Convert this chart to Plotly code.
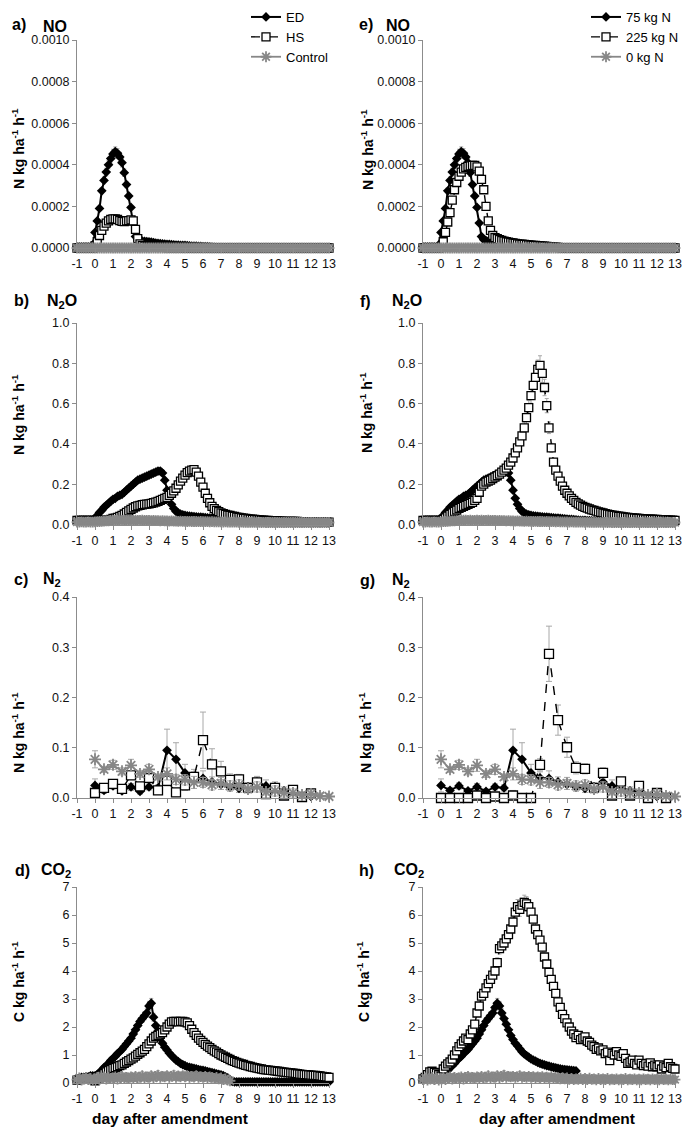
import plotly.graph_objects as go

# ---------------- data ----------------
# dense time grid: every 3 h from day -1 to day 13
DAYS = [round(-1 + i * 0.125, 3) for i in range(113)]
N2_DAYS = [0, 0.5, 1, 1.5, 2, 2.5, 3, 3.5, 4, 4.5, 5, 5.5, 6, 6.5, 7, 7.5, 8, 8.5, 9, 9.5,
           10, 10.5, 11, 11.5, 12, 12.5, 13]
X_TICKS = [-1, 0, 1, 2, 3, 4, 5, 6, 7, 8, 9, 10, 11, 12, 13]

# NO flux, values in units of 1e-4 N kg ha-1 h-1
NO_ED = [0.05, 0.05, 0.05, 0.05, 0.05, 0.05, 0.05, 0.15,
         0.75, 1.3, 1.9, 2.75, 3.25, 3.65, 4.0, 4.3,
         4.52, 4.63, 4.55, 4.38, 4.1, 3.62, 3.05, 2.5,
         1.95, 1.2, 0.55, 0.4, 0.35, 0.33, 0.32, 0.31,
         0.3, 0.28, 0.26, 0.24, 0.22, 0.21, 0.2, 0.19,
         0.18, 0.17, 0.16, 0.15, 0.14, 0.135, 0.13, 0.125,
         0.12, 0.11, 0.1, 0.095, 0.09, 0.085, 0.08, 0.075,
         0.07, 0.065, 0.06, 0.05, 0.04, 0.03, 0.02, 0.01,
         0.01, 0.01, 0.01, 0.01, 0.01, 0.01, 0.01, 0.01,
         0.005, 0.005, 0.005, 0.005, 0.005, 0.005, 0.005, 0.005,
         0.005, 0.005, 0.005, 0.005, 0.005, 0.005, 0.005, 0.005,
         0.0, 0.0, 0.0, 0.0, 0.0, 0.0, 0.0, 0.0,
         0.0, 0.0, 0.0, 0.0, 0.0, 0.0, 0.0, 0.0,
         0.0, 0.0, 0.0, 0.0, 0.0, 0.0, 0.0, 0.0,
         0.0]
NO_HS = [0.0, 0.0, 0.0, 0.0, 0.0, 0.0, 0.0, 0.0,
         0.1, 0.3, 0.6, 0.85, 1.05, 1.2, 1.3, 1.37,
         1.4, 1.4, 1.38, 1.32, 1.28, 1.27, 1.3, 1.32,
         1.35, 1.3, 0.9, 0.45, 0.2, 0.12, 0.08, 0.06,
         0.05, 0.05, 0.04, 0.04, 0.04, 0.03, 0.03, 0.03,
         0.02, 0.02, 0.02, 0.02, 0.02, 0.02, 0.02, 0.02,
         0.01, 0.01, 0.01, 0.01, 0.01, 0.01, 0.01, 0.01,
         0.01, 0.01, 0.01, 0.01, 0.01, 0.01, 0.01, 0.01,
         0.0, 0.0, 0.0, 0.0, 0.0, 0.0, 0.0, 0.0,
         0.0, 0.0, 0.0, 0.0, 0.0, 0.0, 0.0, 0.0,
         0.0, 0.0, 0.0, 0.0, 0.0, 0.0, 0.0, 0.0,
         0.0, 0.0, 0.0, 0.0, 0.0, 0.0, 0.0, 0.0,
         0.0, 0.0, 0.0, 0.0, 0.0, 0.0, 0.0, 0.0,
         0.0, 0.0, 0.0, 0.0, 0.0, 0.0, 0.0, 0.0,
         0.0]
NO_225 = [0.0, 0.0, 0.0, 0.0, 0.0, 0.0, 0.0, 0.0,
          0.05, 0.3, 0.75, 1.25, 1.7, 2.3, 2.8, 3.15,
          3.45, 3.65, 3.8, 3.88, 3.92, 3.95, 3.97, 3.97,
          3.9, 3.7, 3.3, 2.8, 2.0, 1.3, 0.85, 0.6,
          0.5, 0.45, 0.4, 0.36, 0.33, 0.3, 0.28, 0.26,
          0.24, 0.22, 0.2, 0.19, 0.18, 0.17, 0.16, 0.15,
          0.14, 0.13, 0.12, 0.11, 0.1, 0.09, 0.085, 0.08,
          0.07, 0.06, 0.05, 0.04, 0.03, 0.02, 0.01, 0.01,
          0.0, 0.0, 0.0, 0.0, 0.0, 0.0, 0.0, 0.0,
          0.0, 0.0, 0.0, 0.0, 0.0, 0.0, 0.0, 0.0,
          0.0, 0.0, 0.0, 0.0, 0.0, 0.0, 0.0, 0.0,
          0.0, 0.0, 0.0, 0.0, 0.0, 0.0, 0.0, 0.0,
          0.0, 0.0, 0.0, 0.0, 0.0, 0.0, 0.0, 0.0,
          0.0, 0.0, 0.0, 0.0, 0.0, 0.0, 0.0, 0.0,
          0.0]
NO_CTRL = [0.0, 0.0, 0.0, 0.0, 0.0, 0.0, 0.0, 0.0,
           0.0, 0.0, 0.0, 0.0, 0.0, 0.0, 0.0, 0.0,
           0.0, 0.0, 0.0, 0.0, 0.0, 0.0, 0.0, 0.0,
           0.0, 0.0, 0.0, 0.0, 0.0, 0.0, 0.0, 0.0,
           0.0, 0.0, 0.0, 0.0, 0.0, 0.0, 0.0, 0.0,
           0.0, 0.0, 0.0, 0.0, 0.0, 0.0, 0.0, 0.0,
           0.0, 0.0, 0.0, 0.0, 0.0, 0.0, 0.0, 0.0,
           0.0, 0.0, 0.0, 0.0, 0.0, 0.0, 0.0, 0.0,
           0.0, 0.0, 0.0, 0.0, 0.0, 0.0, 0.0, 0.0,
           0.0, 0.0, 0.0, 0.0, 0.0, 0.0, 0.0, 0.0,
           0.0, 0.0, 0.0, 0.0, 0.0, 0.0, 0.0, 0.0,
           0.0, 0.0, 0.0, 0.0, 0.0, 0.0, 0.0, 0.0,
           0.0, 0.0, 0.0, 0.0, 0.0, 0.0, 0.0, 0.0,
           0.0, 0.0, 0.0, 0.0, 0.0, 0.0, 0.0, 0.0,
           0.0]

# N2O flux, N kg ha-1 h-1
N2O_ED = [0.02, 0.02, 0.02, 0.02, 0.02, 0.02, 0.02, 0.022,
          0.025, 0.045, 0.06, 0.07, 0.085, 0.095, 0.105, 0.115,
          0.125, 0.13, 0.14, 0.145, 0.15, 0.16, 0.17, 0.18,
          0.19, 0.2, 0.21, 0.22, 0.225, 0.23, 0.235, 0.24,
          0.245, 0.25, 0.255, 0.26, 0.265, 0.265, 0.255, 0.22,
          0.17, 0.13, 0.1, 0.08, 0.065, 0.058, 0.052, 0.048,
          0.045, 0.043, 0.041, 0.04, 0.039, 0.038, 0.037, 0.036,
          0.035, 0.034, 0.033, 0.032, 0.031, 0.03, 0.029, 0.028,
          0.027, 0.026, 0.025, 0.024, 0.023, 0.022, 0.021, 0.02,
          0.02, 0.019, 0.019, 0.018, 0.018, 0.017, 0.017, 0.016,
          0.016, 0.016, 0.016, 0.015, 0.015, 0.015, 0.015, 0.015,
          0.015, 0.015, 0.014, 0.014, 0.014, 0.014, 0.014, 0.014,
          0.014, 0.014, 0.013, 0.013, 0.013, 0.013, 0.013, 0.013,
          0.013, 0.013, 0.012, 0.012, 0.012, 0.012, 0.012, 0.012,
          0.012]
N2O_HS = [0.02, 0.02, 0.02, 0.02, 0.02, 0.02, 0.02, 0.02,
          0.02, 0.02, 0.02, 0.02, 0.02, 0.02, 0.022, 0.025,
          0.03, 0.032, 0.035, 0.04, 0.045, 0.052, 0.06, 0.068,
          0.075, 0.082, 0.088, 0.092, 0.095, 0.098, 0.1, 0.101,
          0.102, 0.105, 0.108, 0.111, 0.115, 0.12, 0.125, 0.13,
          0.135, 0.145, 0.155, 0.167, 0.18, 0.197, 0.215, 0.23,
          0.245, 0.257, 0.265, 0.27, 0.272, 0.26, 0.24, 0.21,
          0.185, 0.155, 0.13, 0.108, 0.09, 0.079, 0.07, 0.064,
          0.058, 0.054, 0.05, 0.047, 0.045, 0.042, 0.04, 0.037,
          0.035, 0.033, 0.031, 0.03, 0.028, 0.027, 0.026, 0.025,
          0.024, 0.023, 0.022, 0.021, 0.02, 0.02, 0.019, 0.019,
          0.018, 0.018, 0.017, 0.017, 0.016, 0.016, 0.016, 0.015,
          0.015, 0.015, 0.015, 0.014, 0.014, 0.014, 0.014, 0.014,
          0.013, 0.013, 0.013, 0.013, 0.012, 0.012, 0.012, 0.012,
          0.012]
N2O_225 = [0.02, 0.02, 0.02, 0.02, 0.02, 0.02, 0.02, 0.02,
           0.02, 0.025, 0.033, 0.042, 0.05, 0.058, 0.065, 0.072,
           0.08, 0.085, 0.09, 0.095, 0.1, 0.105, 0.11, 0.12,
           0.13, 0.16, 0.19, 0.2, 0.21, 0.215, 0.22, 0.228,
           0.235, 0.242, 0.25, 0.26, 0.27, 0.28, 0.295, 0.31,
           0.33, 0.355, 0.38, 0.41, 0.44, 0.48, 0.53, 0.58,
           0.64, 0.69, 0.73, 0.77, 0.79, 0.75, 0.68, 0.59,
           0.48, 0.38, 0.31, 0.27, 0.24, 0.215, 0.19, 0.17,
           0.155, 0.142, 0.13, 0.12, 0.11, 0.102, 0.096, 0.09,
           0.085, 0.081, 0.077, 0.073, 0.07, 0.066, 0.063, 0.06,
           0.057, 0.054, 0.051, 0.049, 0.047, 0.045, 0.043, 0.041,
           0.04, 0.038, 0.037, 0.035, 0.034, 0.033, 0.032, 0.031,
           0.03, 0.029, 0.028, 0.027, 0.027, 0.026, 0.026, 0.025,
           0.025, 0.024, 0.024, 0.023, 0.023, 0.022, 0.022, 0.021,
           0.02]
N2O_CTRL = [0.012, 0.012, 0.013, 0.012, 0.012, 0.013, 0.012, 0.012,
            0.013, 0.014, 0.015, 0.016, 0.017, 0.018, 0.018, 0.019,
            0.02, 0.02, 0.021, 0.021, 0.02, 0.021, 0.02, 0.02,
            0.021, 0.02, 0.021, 0.02, 0.02, 0.021, 0.02, 0.02,
            0.02, 0.019, 0.02, 0.019, 0.019, 0.018, 0.019, 0.018,
            0.018, 0.017, 0.018, 0.017, 0.017, 0.016, 0.017, 0.016,
            0.016, 0.015, 0.016, 0.015, 0.015, 0.015, 0.014, 0.015,
            0.014, 0.014, 0.014, 0.013, 0.014, 0.013, 0.013, 0.013,
            0.013, 0.012, 0.013, 0.012, 0.012, 0.012, 0.012, 0.012,
            0.011, 0.012, 0.011, 0.011, 0.011, 0.011, 0.011, 0.011,
            0.011, 0.011, 0.01, 0.011, 0.01, 0.01, 0.01, 0.01,
            0.01, 0.01, 0.01, 0.01, 0.01, 0.01, 0.01, 0.01,
            0.01, 0.01, 0.01, 0.01, 0.01, 0.01, 0.01, 0.01,
            0.01, 0.01, 0.01, 0.01, 0.01, 0.01, 0.01, 0.01,
            0.01]

# N2 flux (every 12 h), N kg ha-1 h-1, with standard errors
N2_ED = [0.025, 0.015, 0.024, 0.014, 0.022, 0.013, 0.022, 0.02, 0.095, 0.077,
         0.05, 0.04, 0.039, 0.032, 0.027, 0.022, 0.019, 0.022, 0.032, 0.024,
         0.022, 0.014, 0.012, 0.003, 0.003, None, None]
N2_ED_ERR = [0.013, 0.006, 0.006, 0.005, 0.007, 0.005, 0.006, 0.006, 0.042, 0.033,
             0.017, 0.012, 0.015, 0.01, 0.01, 0.008, 0.008, 0.008, 0.01, 0.012,
             0.01, 0.008, 0.006, 0.004, 0.004, 0, 0]
N2_HS = [0.01, 0.02, 0.028, 0.018, 0.045, 0.023, 0.04, 0.015, 0.034, 0.011,
         0.025, 0.042, 0.115, 0.067, 0.053, 0.036, 0.037, 0.02, 0.031, 0.008,
         0.02, 0.005, 0.016, 0.002, 0.009, None, None]
N2_HS_ERR = [0.005, 0.005, 0.005, 0.005, 0.008, 0.005, 0.005, 0.005, 0.01, 0.005,
             0.01, 0.015, 0.056, 0.031, 0.02, 0.012, 0.01, 0.008, 0.012, 0.006,
             0.008, 0.005, 0.005, 0.004, 0.004, 0, 0]
N2_225 = [0.0, 0.0, 0.0, 0.0, 0.005, 0.0, 0.003, 0.0, 0.005, 0.0,
          0.0, 0.066, 0.287, 0.155, 0.101, 0.06, 0.058, 0.02, 0.05, 0.005,
          0.033, 0.005, 0.024, 0.0, 0.01, 0.0, None]
N2_225_ERR = [0.002, 0.002, 0.002, 0.002, 0.006, 0.002, 0.004, 0.002, 0.01, 0.002,
              0.002, 0.012, 0.055, 0.03, 0.02, 0.012, 0.01, 0.008, 0.01, 0.004,
              0.008, 0.004, 0.005, 0.002, 0.004, 0.002, 0]
N2_CTRL = [0.077, 0.057, 0.066, 0.053, 0.065, 0.048, 0.057, 0.042, 0.048, 0.037,
           0.036, 0.031, 0.031, 0.026, 0.029, 0.024, 0.026, 0.018, 0.022, 0.012,
           0.014, 0.01, 0.01, 0.006, 0.008, 0.004, 0.003]
N2_CTRL_ERR = [0.017, 0.006, 0.009, 0.007, 0.012, 0.007, 0.01, 0.006, 0.012, 0.01,
               0.01, 0.012, 0.01, 0.01, 0.012, 0.01, 0.01, 0.008, 0.01, 0.006,
               0.01, 0.008, 0.008, 0.006, 0.008, 0.006, 0.006]

# CO2 flux, C kg ha-1 h-1
CO2_ED = [0.1, 0.15, 0.2, 0.2, 0.22, 0.22, 0.25, 0.25,
          0.25, 0.3, 0.38, 0.45, 0.55, 0.62, 0.7, 0.8,
          0.88, 0.95, 1.05, 1.12, 1.2, 1.3, 1.4, 1.5,
          1.6, 1.75, 1.9, 2.05, 2.2, 2.3, 2.4, 2.5,
          2.75, 2.85, 2.35, 2.05, 1.85, 1.6, 1.42, 1.28,
          1.18, 1.07, 0.98, 0.9, 0.82, 0.76, 0.7, 0.66,
          0.62, 0.58, 0.56, 0.54, 0.52, 0.5, 0.48, 0.46,
          0.45, 0.43, 0.41, 0.39, 0.37, 0.35, 0.33, 0.31,
          0.29, 0.26, 0.22, 0.18, 0.12, 0.06, 0.04, 0.04,
          0.04, 0.04, 0.04, 0.04, 0.04, 0.04, 0.04, 0.04,
          0.04, 0.04, 0.04, 0.04, 0.04, 0.04, 0.04, 0.04,
          0.04, 0.04, 0.04, 0.04, 0.04, 0.04, 0.04, 0.04,
          0.04, 0.04, 0.04, 0.04, 0.04, 0.04, 0.04, 0.04,
          0.04, 0.04, 0.04, 0.04, 0.04, 0.04, 0.04, 0.04,
          0.04]
CO2_HS = [0.1, 0.12, 0.15, 0.15, 0.18, 0.15, 0.18, 0.15,
          0.08, 0.15, 0.22, 0.28, 0.34, 0.4, 0.44, 0.48,
          0.52, 0.55, 0.58, 0.62, 0.65, 0.7, 0.75, 0.8,
          0.85, 0.9, 0.96, 1.02, 1.08, 1.14, 1.2, 1.3,
          1.4, 1.5, 1.6, 1.66, 1.7, 1.75, 1.8, 1.9,
          2.0, 2.1, 2.18, 2.2, 2.2, 2.18, 2.2, 2.2,
          2.18, 2.15, 2.05, 1.92, 1.8, 1.7, 1.6, 1.52,
          1.45, 1.38, 1.32, 1.26, 1.2, 1.15, 1.1, 1.05,
          1.0, 0.96, 0.92, 0.88, 0.84, 0.8, 0.77, 0.74,
          0.71, 0.68, 0.66, 0.63, 0.61, 0.59, 0.57, 0.55,
          0.53, 0.51, 0.5, 0.48, 0.47, 0.46, 0.45, 0.44,
          0.43, 0.42, 0.41, 0.4, 0.39, 0.38, 0.37, 0.36,
          0.35, 0.34, 0.33, 0.32, 0.31, 0.3, 0.3, 0.29,
          0.28, 0.27, 0.27, 0.26, 0.25, 0.24, 0.23, 0.22,
          0.2]
CO2_CTRL_D = [0.12, 0.18, 0.1, 0.15, 0.2, 0.12, 0.16, 0.1,
              0.15, 0.2, 0.12, 0.18, 0.22, 0.14, 0.2, 0.16,
              0.18, 0.22, 0.14, 0.2, 0.24, 0.16, 0.2, 0.18,
              0.22, 0.16, 0.24, 0.18, 0.2, 0.26, 0.17, 0.22,
              0.2, 0.26, 0.18, 0.24, 0.28, 0.2, 0.24, 0.22,
              0.26, 0.2, 0.24, 0.28, 0.2, 0.25, 0.22, 0.26,
              0.22, 0.26, 0.2, 0.24, 0.21, 0.26, 0.2, 0.23,
              0.2, 0.24, 0.18, 0.22, 0.2, 0.16, 0.2, 0.15,
              0.18, 0.12, 0.15, 0.1, 0.08, None, None, None,
              None, None, None, None, None, None, None, None,
              None, None, None, None, None, None, None, None,
              None, None, None, None, None, None, None, None,
              None, None, None, None, None, None, None, None,
              None, None, None, None, None, None, None, None,
              None]
CO2_75 = [0.1, 0.15, 0.2, 0.2, 0.22, 0.22, 0.25, 0.25,
          0.25, 0.3, 0.38, 0.45, 0.55, 0.62, 0.7, 0.8,
          0.88, 0.95, 1.05, 1.12, 1.2, 1.3, 1.4, 1.5,
          1.6, 1.75, 1.9, 2.05, 2.2, 2.3, 2.4, 2.5,
          2.7, 2.85, 2.75, 2.5, 2.3, 2.1, 1.9, 1.7,
          1.55, 1.42, 1.33, 1.22, 1.12, 1.04, 0.98, 0.92,
          0.86, 0.82, 0.78, 0.74, 0.7, 0.67, 0.65, 0.62,
          0.6, 0.58, 0.56, 0.54, 0.52, 0.5, 0.49, 0.48,
          0.47, 0.46, 0.45, 0.44, 0.43, None, None, None,
          None, None, None, None, None, None, None, None,
          None, None, None, None, None, None, None, None,
          None, None, None, None, None, None, None, None,
          None, None, None, None, None, None, None, None,
          None, None, None, None, None, None, None, None,
          None]
CO2_225 = [0.15, 0.2, 0.3, 0.4, 0.42, 0.38, 0.35, 0.3,
           0.25, 0.5, 0.6, 0.68, 0.75, 0.85, 1.0, 1.15,
           1.3, 1.4, 1.5, 1.6, 1.55, 1.75, 1.9, 2.1,
           2.5, 2.75, 3.1, 3.2, 3.4, 3.55, 3.7, 3.85,
           4.0, 4.3, 4.8, 4.9, 5.0, 5.15, 5.3, 5.5,
           5.75, 6.1, 6.3, 6.2, 6.35, 6.45, 6.4, 6.3,
           6.1, 5.85, 5.5, 5.3, 5.1, 4.85, 4.5, 4.25,
           3.95, 3.7, 3.45, 3.2, 2.9, 2.7, 2.45, 2.3,
           2.15, 2.0, 1.85, 1.75, 1.62, 1.7, 1.55, 1.6,
           1.65, 1.5, 1.45, 1.35, 1.3, 1.2, 1.25, 1.15,
           1.18, 1.05, 1.1, 0.8, 1.06, 1.0, 1.12, 1.0,
           0.95, 1.05, 0.88, 0.7, 0.75, 0.82, 0.7, 0.65,
           0.82, 0.7, 0.62, 0.68, 0.6, 0.72, 0.58, 0.64,
           0.58, 0.65, 0.5, 0.6, 0.55, 0.7, 0.58, 0.52,
           0.5]
CO2_CTRL_H = [0.12, 0.18, 0.1, 0.15, 0.2, 0.12, 0.16, 0.1,
              0.15, 0.2, 0.12, 0.18, 0.22, 0.14, 0.2, 0.16,
              0.18, 0.22, 0.14, 0.2, 0.24, 0.16, 0.2, 0.18,
              0.22, 0.16, 0.24, 0.18, 0.2, 0.26, 0.17, 0.22,
              0.2, 0.26, 0.18, 0.24, 0.28, 0.2, 0.24, 0.22,
              0.24, 0.2, 0.22, 0.26, 0.2, 0.23, 0.2, 0.24,
              0.2, 0.23, 0.18, 0.22, 0.19, 0.23, 0.18, 0.21,
              0.18, 0.22, 0.17, 0.2, 0.18, 0.15, 0.19, 0.15,
              0.18, 0.13, 0.16, 0.12, 0.15, 0.13, 0.17, 0.12,
              0.16, 0.12, 0.17, 0.13, 0.15, 0.11, 0.16, 0.12,
              0.15, 0.12, 0.16, 0.11, 0.14, 0.12, 0.15, 0.11,
              0.14, 0.12, 0.16, 0.11, 0.14, 0.12, 0.15, 0.11,
              0.14, 0.11, 0.15, 0.12, 0.14, 0.11, 0.15, 0.12,
              0.14, 0.11, 0.15, 0.12, 0.14, 0.11, 0.14, 0.12,
              0.12]

# ---------------- styling ----------------
FONT = "Liberation Sans, Arial, sans-serif"
BLACK = "#000000"
GRAY = "#878787"
ERR = "#a8a8a8"
AXIS = "#8c8c8c"

XL = [77 / 686, 329 / 686]
XR = [423 / 686, 675 / 686]
ROWS = [(40, 248), (323, 524.5), (597, 798), (887, 1083)]


def ydom(r):
    top, bot = ROWS[r]
    return [1 - bot / 1132, 1 - top / 1132]


fig = go.Figure()

STYLE = {
    "ed": dict(line=dict(color=BLACK, width=2),
               marker=dict(symbol="diamond", size=7.5, color=BLACK,
                           line=dict(color=BLACK, width=0))),
    "hs": dict(line=dict(color=BLACK, width=1.4, dash="dash"),
               marker=dict(symbol="square", size=8, color="white",
                           line=dict(color=BLACK, width=1.3))),
    "ctrl": dict(line=dict(color=GRAY, width=1.8),
                 marker=dict(symbol="asterisk-open", size=9, color=GRAY,
                             line=dict(color=GRAY, width=1.8))),
}


def add(ax, x, y, kind, name, err=None, pct=None, legend=None, size=None):
    st = STYLE[kind]
    mk = dict(st["marker"])
    if size is not None:
        mk = dict(mk, size=size)
    kw = {}
    if err is not None:
        kw["error_y"] = dict(type="data", array=err, visible=True, color=ERR,
                             thickness=1, width=3)
    elif pct is not None:
        kw["error_y"] = dict(type="percent", value=pct, visible=True, color=ERR,
                             thickness=1, width=2)
    fig.add_trace(go.Scatter(
        x=x, y=y, mode="lines+markers", name=name,
        line=st["line"], marker=mk, cliponaxis=False,
        xaxis="x" + ("" if ax == 1 else str(ax)),
        yaxis="y" + ("" if ax == 1 else str(ax)),
        showlegend=legend is not None,
        legend=legend if legend is not None else "legend",
        connectgaps=False, hoverinfo="skip", **kw))


no_ed = [v * 1e-4 for v in NO_ED]
no_hs = [v * 1e-4 for v in NO_HS]
no_225 = [v * 1e-4 for v in NO_225]
no_ctrl = [v * 1e-4 for v in NO_CTRL]

# panel a (axis 1) and e (axis 2): NO
add(1, DAYS, no_ed, "ed", "ED", pct=5, legend="legend")
add(1, DAYS, no_hs, "hs", "HS", pct=5, legend="legend")
add(1, DAYS, no_ctrl, "ctrl", "Control", legend="legend")
add(2, DAYS, no_ed, "ed", "75 kg N", pct=5, legend="legend2")
add(2, DAYS, no_225, "hs", "225 kg N", pct=5, legend="legend2")
add(2, DAYS, no_ctrl, "ctrl", "0 kg N", legend="legend2")

# panel b (3) and f (4): N2O
add(3, DAYS, N2O_ED, "ed", "ED", pct=6)
add(3, DAYS, N2O_HS, "hs", "HS", pct=6)
add(3, DAYS, N2O_CTRL, "ctrl", "Control", pct=20)
add(4, DAYS, N2O_ED, "ed", "75 kg N", pct=6)
add(4, DAYS, N2O_225, "hs", "225 kg N", pct=6)
add(4, DAYS, N2O_CTRL, "ctrl", "0 kg N", pct=20)

# panel c (5) and g (6): N2
add(5, N2_DAYS, N2_ED, "ed", "ED", err=N2_ED_ERR, size=7.5)
add(5, N2_DAYS, N2_HS, "hs", "HS", err=N2_HS_ERR, size=9)
add(5, N2_DAYS, N2_CTRL, "ctrl", "Control", err=N2_CTRL_ERR, size=10)
add(6, N2_DAYS, N2_ED, "ed", "75 kg N", err=N2_ED_ERR, size=7.5)
add(6, N2_DAYS, N2_225, "hs", "225 kg N", err=N2_225_ERR, size=9)
add(6, N2_DAYS, N2_CTRL, "ctrl", "0 kg N", err=N2_CTRL_ERR, size=10)

# panel d (7) and h (8): CO2
add(7, DAYS, CO2_ED, "ed", "ED", pct=6)
add(7, DAYS, CO2_HS, "hs", "HS", pct=6)
add(7, DAYS, CO2_CTRL_D, "ctrl", "Control", pct=55)
add(8, DAYS, CO2_75, "ed", "75 kg N", pct=6)
add(8, DAYS, CO2_225, "hs", "225 kg N", pct=4)
add(8, DAYS, CO2_CTRL_H, "ctrl", "0 kg N", pct=55)

# ---------------- axes ----------------
Y_SPECS = [
    dict(range=[0, 0.001], dtick=0.0002, tickformat=".4f"),
    dict(range=[0, 1.0], dtick=0.2, tickformat=".1f"),
    dict(range=[0, 0.4], dtick=0.1, tickformat=".1f"),
    dict(range=[0, 7], dtick=1, tickformat="d"),
]

layout = {}
for ax in range(1, 9):
    r = (ax - 1) // 2
    left = (ax % 2 == 1)
    sx = "" if ax == 1 else str(ax)
    layout["xaxis" + sx] = dict(
        domain=XL if left else XR, anchor="y" + sx,
        range=[-1, 13], tickmode="array", tickvals=X_TICKS,
        ticktext=[str(t) for t in X_TICKS],
        showline=True, linecolor=AXIS, linewidth=1,
        ticks="outside", ticklen=4, tickcolor=AXIS, tickwidth=1,
        showgrid=False, zeroline=False, automargin=False,
        tickfont=dict(family=FONT, size=12.5, color="#111111"),
    )
    ys = Y_SPECS[r]
    layout["yaxis" + sx] = dict(
        domain=ydom(r), anchor="x" + sx,
        range=ys["range"], dtick=ys["dtick"], tick0=0, tickformat=ys["tickformat"],
        showline=True, linecolor=AXIS, linewidth=1,
        ticks="outside", ticklen=4, tickcolor=AXIS, tickwidth=1,
        showgrid=False, zeroline=False, automargin=False,
        tickfont=dict(family=FONT, size=12.5, color="#111111"),
    )

# ---------------- text ----------------
ann = []


def txt(x, y, s, size, angle=0):
    ann.append(dict(x=x / 686, y=1 - y / 1132, xref="paper", yref="paper",
                    text=s, showarrow=False, textangle=angle,
                    xanchor="center", yanchor="middle",
                    font=dict(family=FONT, size=size, color=BLACK)))


# panel letters
for lab, x, y in [("a)", 19, 24), ("e)", 366, 24), ("b)", 21, 300), ("f)", 365, 301),
                  ("c)", 21, 579), ("g)", 367, 580), ("d)", 22, 870), ("h)", 366, 870)]:
    txt(x, y, "<b>%s</b>" % lab, 16)
# gas names
for lab, x, y in [("NO", 55, 26), ("NO", 398, 25),
                  ("N<sub>2</sub>O", 62, 301), ("N<sub>2</sub>O", 407, 301),
                  ("N<sub>2</sub>", 52, 579), ("N<sub>2</sub>", 401, 580),
                  ("CO<sub>2</sub>", 56, 870), ("CO<sub>2</sub>", 409, 870)]:
    txt(x, y, "<b>%s</b>" % lab, 16)
# y titles
YT_N = "<b>N kg ha<sup>-1</sup> h<sup>-1</sup></b>"
YT_C = "<b>C kg ha<sup>-1</sup> h<sup>-1</sup></b>"
for s, x, y in [(YT_N, 18, 149), (YT_N, 367, 150), (YT_N, 18, 415), (YT_N, 366, 413),
                (YT_N, 18, 733), (YT_N, 365, 733), (YT_C, 18, 982), (YT_C, 363, 982)]:
    txt(x, y, s, 14, angle=-90)
# x titles
txt(170, 1118, "<b>day after amendment</b>", 15.5)
txt(557, 1118, "<b>day after amendment</b>", 15.5)

fig.update_layout(
    width=686, height=1132,
    margin=dict(l=0, r=0, t=0, b=0, autoexpand=False),
    paper_bgcolor="white", plot_bgcolor="white",
    font=dict(family=FONT, size=13, color=BLACK),
    annotations=ann,
    legend=dict(x=246 / 686, y=1 - 2 / 1132, xanchor="left", yanchor="top",
                bgcolor="rgba(0,0,0,0)", font=dict(family=FONT, size=13, color=BLACK),
                itemwidth=30, tracegroupgap=0),
    legend2=dict(x=586 / 686, y=1 - 2 / 1132, xanchor="left", yanchor="top",
                 bgcolor="rgba(0,0,0,0)", font=dict(family=FONT, size=13, color=BLACK),
                 itemwidth=30, tracegroupgap=0),
    **layout,
)

fig.write_html(
    "out.html",
    config={"displayModeBar": False},
    post_script="document.body.style.margin='0';document.body.style.overflow='hidden';",
)
